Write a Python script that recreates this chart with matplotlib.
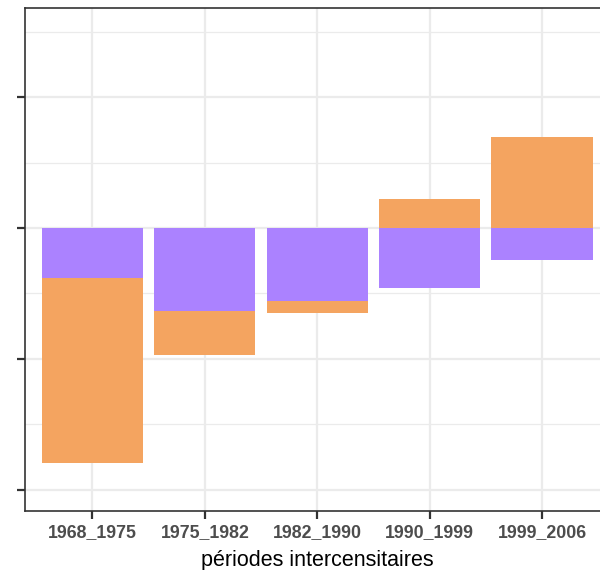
import matplotlib
matplotlib.use("Agg")
import matplotlib.pyplot as plt
import numpy as np

periods = ["1968_1975", "1975_1982", "1982_1990", "1990_1999", "1999_2006"]
purple_vals = [-0.382, -0.637, -0.560, -0.456, -0.247]
orange_vals = [-1.414, -0.334, -0.087, 0.224, 0.696]

purple_col = "#AB82FF"
orange_col = "#F4A460"

W, H = 600, 570
fig = plt.figure(figsize=(W / 100, H / 100), dpi=100)
left, right, top, bottom = 25, 609.5, 8, 511
ax = fig.add_axes([left / W, 1 - bottom / H, (right - left) / W, (bottom - top) / H])

x = np.arange(1, len(periods) + 1)
pv = np.array(purple_vals)
ov = np.array(orange_vals)
# stacking like ggplot: negatives stack downward, positives upward
orange_base = np.where((ov < 0) & (pv < 0), pv, np.where((ov > 0) & (pv > 0), pv, 0))
ax.bar(x, pv, width=0.9, color=purple_col, zorder=3, linewidth=0)
ax.bar(x, ov, bottom=orange_base, width=0.9, color=orange_col, zorder=3, linewidth=0)

ax.set_xlim(0.4, 5.6)
ax.set_ylim(-2.164, 1.682)
ax.set_yticks([-2, -1, 0, 1])
ax.set_yticks([-1.5, -0.5, 0.5, 1.5], minor=True)
ax.set_yticklabels([])
ax.set_xticks(x)
ax.set_xticklabels(periods, fontsize=12.8, fontweight="bold", color="#4D4D4D",
                   family="Liberation Sans")

ax.grid(True, which="major", color="#EBEBEB", linewidth=1.6, zorder=0)
ax.grid(True, which="minor", axis="y", color="#EBEBEB", linewidth=0.9, zorder=0)
ax.set_axisbelow(True)

ax.tick_params(axis="both", which="major", length=6, width=1.6, color="#333333", pad=3.5)
ax.tick_params(axis="y", which="minor", length=0)
for s in ["left", "top", "bottom"]:
    ax.spines[s].set_color("#333333")
    ax.spines[s].set_linewidth(1.2)
ax.spines["right"].set_visible(False)

ax.set_xlabel("périodes intercensitaires", fontsize=15.5, family="Liberation Sans",
              color="black", labelpad=6.5)

fig.savefig("out.png", dpi=100)
